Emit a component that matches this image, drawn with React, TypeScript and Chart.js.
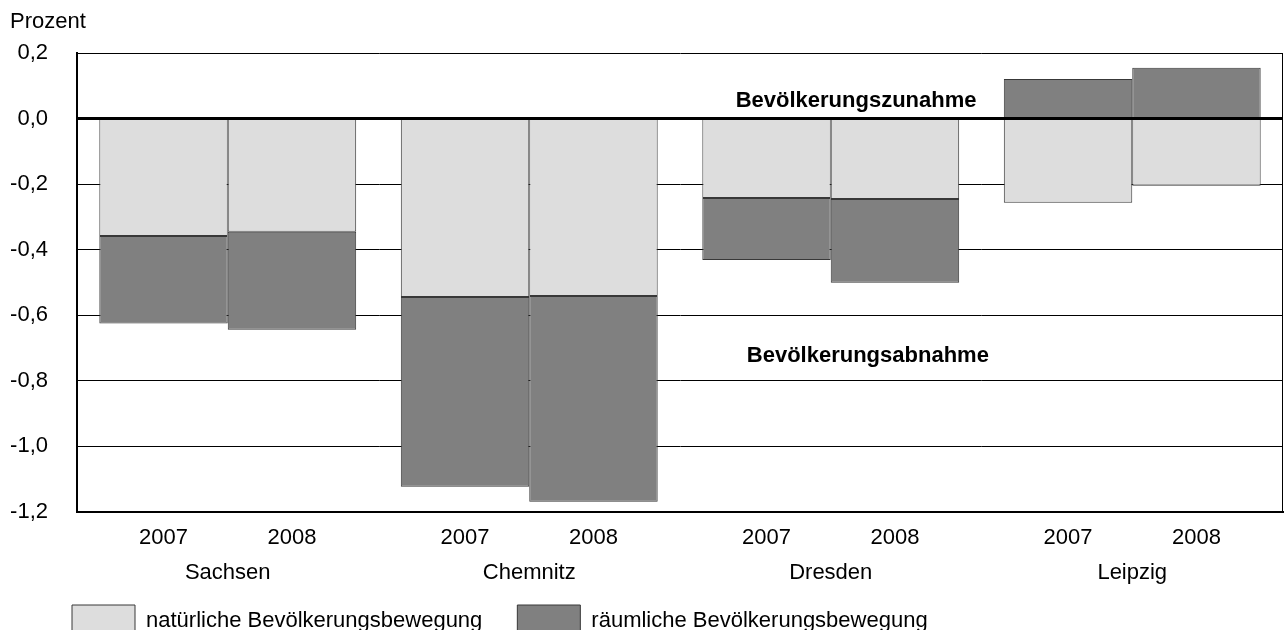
import React, { useEffect, useRef } from 'react';
import { Chart, registerables } from 'chart.js';

Chart.register(...registerables);

const regions = ['Sachsen', 'Chemnitz', 'Dresden', 'Leipzig'];
const years = ['2007', '2008'];
const natural2007 = [-0.358, -0.544, -0.242, -0.257];
const spatial2007 = [-0.267, -0.579, -0.189, 0.121];
const natural2008 = [-0.345, -0.541, -0.245, -0.205];
const spatial2008 = [-0.299, -0.628, -0.256, 0.155];
const yTicks = [-1.2, -1.0, -0.8, -0.6, -0.4, -0.2, 0, 0.2];
const seriesLabels = ['natürliche Bevölkerungsbewegung', 'räumliche Bevölkerungsbewegung'];
const yAxisTitle = 'Prozent';
const noteUp = 'Bevölkerungszunahme';
const noteDown = 'Bevölkerungsabnahme';

const FONT = '"Liberation Sans", Arial, sans-serif';
const FS = 22;
const LIGHT = '#dddddd';
const DARK = '#808080';
const EDGE = '#383838';

const decor = {
  id: 'decor',
  afterLayout(chart: any) {
    const lg = chart.legend;
    if (lg) {
      const w = lg.width;
      const h = lg.height;
      lg.left = 37;
      lg.top = 570;
      lg.right = lg.left + w;
      lg.bottom = lg.top + h;
    }
    const xs = chart.scales.x;
    if (xs) {
      xs.bottom = 600;
    }
  },
  afterDatasetsDraw(chart: any) {
    const { ctx, chartArea: a, scales } = chart;
    const x = scales.x;
    const y = scales.y;
    ctx.save();
    const y0 = y.getPixelForValue(0);
    ctx.strokeStyle = '#000';
    ctx.lineWidth = 3;
    ctx.beginPath();
    ctx.moveTo(a.left, y0);
    ctx.lineTo(a.right, y0);
    ctx.stroke();
    ctx.lineWidth = 1;
    const xr = Math.round(a.right) - 0.5;
    ctx.beginPath();
    ctx.moveTo(xr, a.top);
    ctx.lineTo(xr, a.bottom);
    ctx.stroke();
    ctx.fillStyle = '#000';
    ctx.font = `bold ${FS}px ${FONT}`;
    ctx.textAlign = 'center';
    ctx.textBaseline = 'middle';
    ctx.fillText(noteUp, x.getPixelForValue(2.084), y.getPixelForValue(0.055));
    ctx.fillText(noteDown, x.getPixelForValue(2.123), y.getPixelForValue(-0.724));
    ctx.restore();
  },
  afterDraw(chart: any) {
    const { ctx, chartArea: a } = chart;
    ctx.save();
    ctx.fillStyle = '#000';
    ctx.font = `${FS}px ${FONT}`;
    ctx.textAlign = 'center';
    ctx.textBaseline = 'middle';
    [0, 2].forEach((di, k) => {
      chart.getDatasetMeta(di).data.forEach((el: any) => {
        ctx.fillText(years[k], el.x, a.bottom + 26);
      });
    });
    ctx.textAlign = 'left';
    ctx.fillText(yAxisTitle, 10, 22);
    ctx.restore();
  },
};

const fmt = (v: number) => v.toFixed(1).replace('-0.0', '0.0').replace('.', ',');

export default function App() {
  const ref = useRef<HTMLCanvasElement | null>(null);
  useEffect(() => {
    if (!ref.current) return;
    const common = {
      barPercentage: 1,
      categoryPercentage: 0.852,
      borderColor: EDGE,
      borderWidth: 1,
      borderSkipped: false as const,
    };
    const chart = new Chart(ref.current, {
      type: 'bar',
      data: {
        labels: regions,
        datasets: [
          { ...common, label: seriesLabels[0], data: natural2007, backgroundColor: LIGHT, stack: years[0] },
          { ...common, label: seriesLabels[1], data: spatial2007, backgroundColor: DARK, stack: years[0] },
          { ...common, label: seriesLabels[0], data: natural2008, backgroundColor: LIGHT, stack: years[1] },
          { ...common, label: seriesLabels[1], data: spatial2008, backgroundColor: DARK, stack: years[1] },
        ],
      },
      options: {
        responsive: false,
        animation: false,
        layout: { padding: { top: 53, left: 0, right: 5, bottom: 0 } },
        plugins: {
          legend: {
            position: 'bottom',
            align: 'start',
            labels: {
              boxWidth: 63,
              boxHeight: 32,
              padding: 35,
              color: '#000',
              font: { family: FONT, size: FS },
              filter: (item: any) => item.datasetIndex < 2,
            },
          },
          tooltip: { enabled: false },
        },
        scales: {
          x: {
            stacked: true,
            offset: true,
            grid: { display: false },
            border: { display: true, color: '#000', width: 2 },
            ticks: { color: '#000', font: { family: FONT, size: FS }, padding: 40, maxRotation: 0, autoSkip: false },
            afterFit: (s: any) => { s.height = 41; },
          },
          y: {
            stacked: true,
            min: -1.2,
            max: 0.2,
            grid: { color: '#000', lineWidth: 1, drawTicks: false },
            border: { display: true, color: '#000', width: 2 },
            ticks: { color: '#000', font: { family: FONT, size: FS }, padding: 29, callback: (v: any) => fmt(Number(v)) },
            afterBuildTicks: (s: any) => { s.ticks = yTicks.map((v) => ({ value: v })); },
            afterFit: (s: any) => { s.width = 77; },
          },
        },
      },
      plugins: [decor],
    });
    return () => chart.destroy();
  }, []);
  return (
    <div style={{ position: 'fixed', left: 0, top: 0, width: 1288, height: 630, background: '#fff' }}>
      <canvas ref={ref} width={1288} height={630} style={{ display: 'block', width: 1288, height: 630 }} />
    </div>
  );
}
